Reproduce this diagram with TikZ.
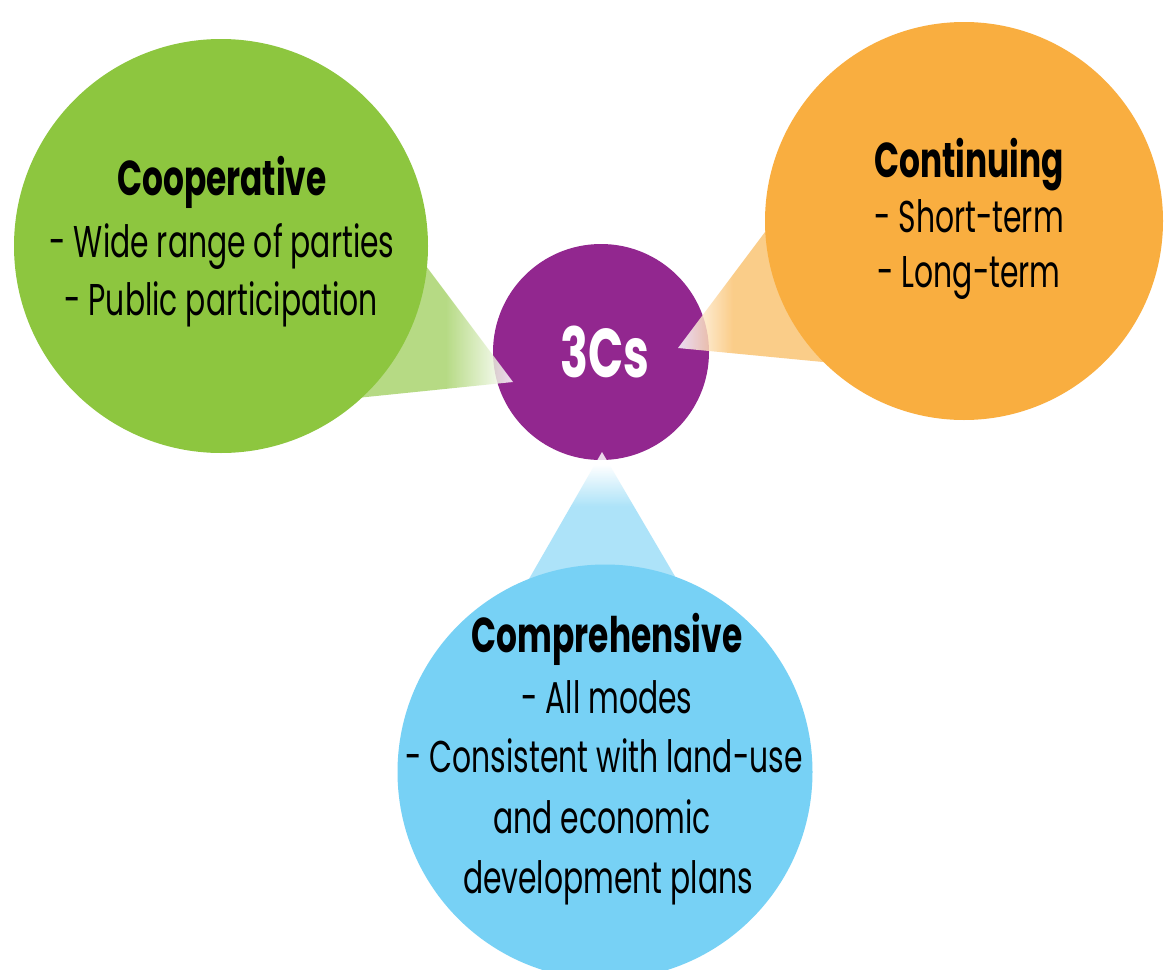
\documentclass[tikz,border=0pt]{standalone}
\usepackage{fontspec}
\setmainfont[FakeStretch=0.67]{Poppins}
\definecolor{cgreen}{HTML}{8DC63F}
\definecolor{corange}{HTML}{F9AE40}
\definecolor{cblue}{HTML}{77D1F5}
\definecolor{cpurple}{HTML}{92278F}
\colorlet{gwedge}{cgreen!78!white}
\colorlet{owedge}{corange!75!white}
\colorlet{bwedge}{cblue!73!white}
\pgfdeclarehorizontalshading{greenfade}{100bp}{color(0bp)=(gwedge); color(25bp)=(gwedge); color(60bp)=(gwedge); color(74bp)=(white); color(100bp)=(white)}
\pgfdeclarehorizontalshading{orangefade}{100bp}{color(0bp)=(white); color(26bp)=(white); color(37bp)=(owedge); color(75bp)=(owedge); color(100bp)=(owedge)}
\pgfdeclareverticalshading{bluefade}{100bp}{color(0bp)=(bwedge); color(25bp)=(bwedge); color(58bp)=(bwedge); color(71bp)=(white); color(100bp)=(white)}
\begin{document}
\begin{tikzpicture}[x=1pt,y=-1pt,
  bubble/.style={circle, inner sep=0pt, minimum size=#1},
  wedge/.style={fill opacity=0.82},
  lbl/.style={anchor=base, inner sep=0pt, text=black, font=\fontsize{44.5}{50}\selectfont},
  ttl/.style={anchor=base, inner sep=0pt, text=black, font=\fontsize{49}{54}\selectfont\bfseries}]
\fill[white] (0,0) rectangle (1167,969);
\clip (0,0) rectangle (1167,969);
% hub
\node[bubble=216pt, fill=cpurple] (hub) at (601,352) {};
% wedge coordinates
\coordinate (gtip) at (513,382);
\coordinate (ga) at (384,210);
\coordinate (gb) at (288,405);
\coordinate (otip) at (678,348);
\coordinate (oa) at (810,172);
\coordinate (ob) at (906,370);
\coordinate (btip) at (602,452);
\coordinate (ba) at (510,612);
\coordinate (bb) at (693,607);
\shade[wedge, shading=greenfade] (ga) -- (gtip) -- (gb) -- cycle;
\shade[wedge, shading=orangefade] (oa) -- (otip) -- (ob) -- cycle;
\shade[wedge, shading=bluefade] (ba) -- (btip) -- (bb) -- cycle;
% outer bubbles
\node[bubble=414pt, fill=cgreen] (coop) at (221,246) {};
\node[bubble=398pt, fill=corange] (cont) at (964,221) {};
\node[bubble=415pt, fill=cblue] (comp) at (605,772) {};
% hub label
\node[anchor=base, inner sep=0pt, text=white, font=\fontsize{69}{76}\selectfont\bfseries] (hubT) at (605,377) {3Cs};
% Cooperative
\node[ttl] (coopT) at (222,195) {Cooperative};
\node[lbl] (coopA) at (222,257) {- Wide range of parties};
\node[lbl] (coopB) at (221,315) {- Public participation};
% Continuing
\node[ttl] (contT) at (969,177) {Continuing};
\node[lbl] (contA) at (969,232) {- Short-term};
\node[lbl] (contB) at (969,287) {- Long-term};
% Comprehensive
\node[ttl] (compT) at (607,652) {Comprehensive};
\node[lbl] (compA) at (607,713) {- All modes};
\node[lbl] (compB) at (604,772) {- Consistent with land-use};
\node[lbl] (compC) at (602,833) {and economic};
\node[lbl] (compD) at (608,893) {development plans};
\end{tikzpicture}
\end{document}
